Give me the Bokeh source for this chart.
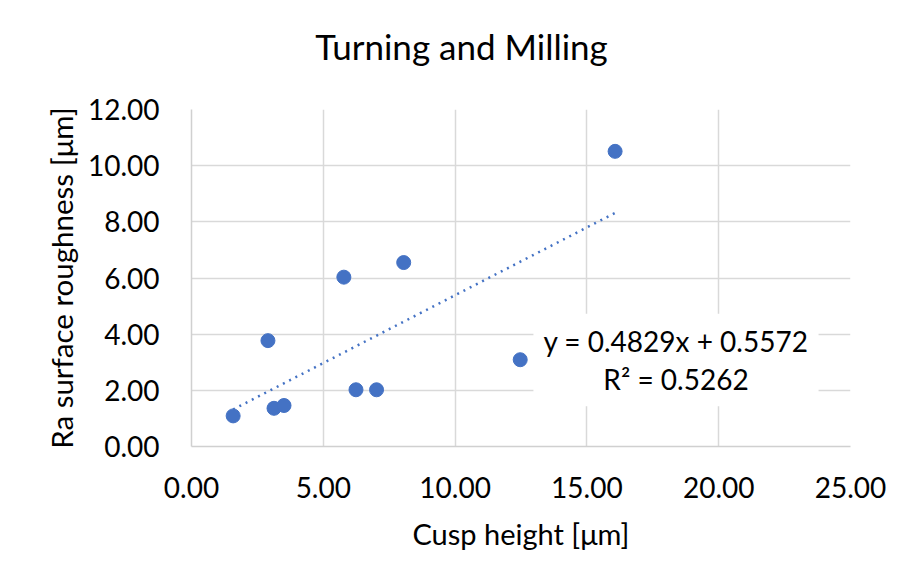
from bokeh.plotting import figure
from bokeh.models import Range1d, FixedTicker, NumeralTickFormatter, Label, Div
from bokeh.layouts import column
from bokeh.embed import file_html
from bokeh.resources import INLINE

# ---- data ----
cusp_height = [1.58, 2.90, 3.13, 3.51, 5.78, 6.24, 7.02, 8.05, 12.47, 16.07]
ra_roughness = [1.09, 3.77, 1.36, 1.46, 6.03, 2.02, 2.02, 6.55, 3.09, 10.51]
x_ticks = [0, 5, 10, 15, 20, 25]
y_ticks = [0, 2, 4, 6, 8, 10, 12]
slope = 0.4829
intercept = 0.5572
r_squared = 0.5262
title_text = "Turning and Milling"
x_label = "Cusp height [μm]"
y_label = "Ra surface roughness [μm]"

FONT = "Lato"
BLUE = "#4472C4"
TITLE_H = 70

title = Div(text=title_text, width=889, height=TITLE_H, margin=0,
            styles={"font-family": FONT, "font-size": "35px", "line-height": "40px",
                    "padding-top": "26px", "text-align": "center", "padding-left": "34px",
                    "color": "#000000", "box-sizing": "border-box", "width": "889px",
                    "height": f"{TITLE_H}px", "white-space": "nowrap"})

p = figure(width=889, height=569 - TITLE_H, output_backend="svg", toolbar_location=None,
           x_range=Range1d(0, 25), y_range=Range1d(0, 12), margin=0,
           min_border_left=191, min_border_right=39, min_border_top=109 - TITLE_H,
           min_border_bottom=123)
p.outline_line_color = None
p.background_fill_color = "white"
p.border_fill_color = "white"

for ax in (p.xaxis[0], p.yaxis[0]):
    ax.major_tick_line_color = None
    ax.minor_tick_line_color = None
    ax.axis_line_color = "#d0d0d0"
    ax.axis_line_width = 1.5
    ax.formatter = NumeralTickFormatter(format="0.00")
    ax.major_label_text_font = FONT
    ax.major_label_text_font_size = "28px"
    ax.major_label_text_color = "#000000"
    ax.axis_label_text_font = FONT
    ax.axis_label_text_font_style = "normal"
    ax.axis_label_text_color = "#000000"

p.xaxis[0].axis_label_text_font_size = "29px"
p.yaxis[0].axis_label_text_font_size = "29.5px"
p.xaxis[0].ticker = FixedTicker(ticks=x_ticks)
p.yaxis[0].ticker = FixedTicker(ticks=y_ticks)
p.xaxis[0].axis_label = x_label
p.yaxis[0].axis_label = y_label
p.xaxis[0].major_label_standoff = 24
p.yaxis[0].major_label_standoff = 26
p.xaxis[0].axis_label_standoff = 15
p.yaxis[0].axis_label_standoff = 6

p.xgrid.ticker = FixedTicker(ticks=x_ticks)
p.ygrid.ticker = FixedTicker(ticks=y_ticks)
p.xgrid.grid_line_color = "#d9d9d9"
p.ygrid.grid_line_color = "#d9d9d9"
p.xgrid.grid_line_width = 1.5
p.ygrid.grid_line_width = 1.5

# trendline
x_line = [min(cusp_height), max(cusp_height)]
y_line = [slope * v + intercept for v in x_line]
p.line(x_line, y_line, line_color=BLUE, line_width=2.5, line_dash="2 5")

# points
p.scatter(cusp_height, ra_roughness, size=14, fill_color=BLUE, line_color=BLUE)

# equation label
eq = Label(x=18.38, y=3.08, text=f"y = {slope:.4f}x + {intercept:.4f}\nR² = {r_squared:.4f}",
           text_align="center", text_baseline="middle", text_font=FONT,
           text_font_size="28px", text_color="#000000", text_line_height=1.13,
           background_fill_color="white", padding=10)
p.add_layout(eq)

layout = column(title, p, spacing=0, margin=0)
open("out.html", "w").write(file_html(layout, INLINE))
